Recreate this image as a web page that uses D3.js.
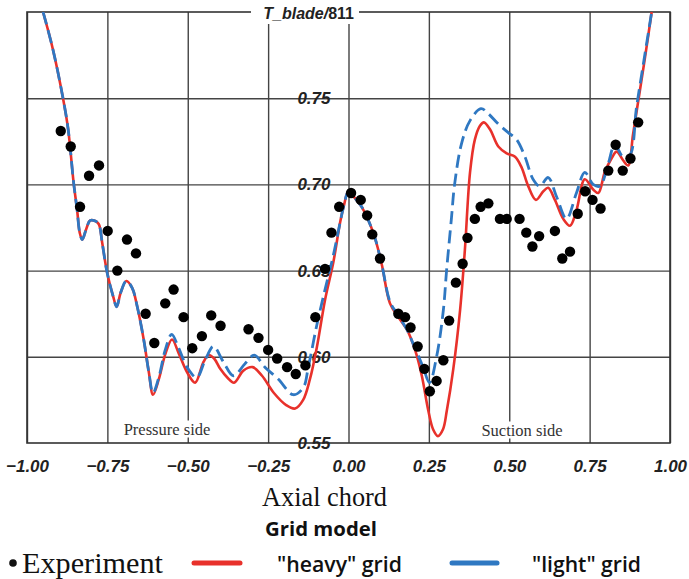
<!DOCTYPE html>
<html>
<head>
<meta charset="utf-8">
<script src="https://cdn.jsdelivr.net/npm/d3@7"></script>
<style>
  html, body { margin: 0; padding: 0; background: #fff; }
  svg { display: block; }
</style>
</head>
<body>
<svg id="chart" width="689" height="579"></svg>
<script>
// ---------------- DATA ----------------
const xTicks = [-1.00, -0.75, -0.50, -0.25, 0.00, 0.25, 0.50, 0.75, 1.00];
const yTicks = [0.55, 0.60, 0.65, 0.70, 0.75];
const yGrid = [0.60, 0.65, 0.70, 0.75];

// Experiment (dots)
const expX = [-0.895,-0.864,-0.835,-0.807,-0.776,-0.749,-0.719,-0.689,-0.661,-0.631,
  -0.604,-0.570,-0.544,-0.513,-0.486,-0.456,-0.427,-0.398,-0.311,-0.280,
  -0.250,-0.222,-0.191,-0.164,-0.134,-0.103,-0.073,-0.053,-0.029,0.008,
  0.038,0.058,0.074,0.098,0.155,0.176,0.193,0.215,0.236,0.253,
  0.274,0.295,0.313,0.334,0.355,0.370,0.393,0.411,0.435,0.471,
  0.492,0.532,0.553,0.572,0.593,0.642,0.665,0.689,0.713,0.736,
  0.759,0.784,0.808,0.831,0.853,0.877,0.901];
const expT = [0.731,0.722,0.687,0.705,0.711,0.673,0.650,0.668,0.660,0.625,
  0.608,0.631,0.639,0.623,0.605,0.612,0.624,0.618,0.616,0.611,
  0.604,0.599,0.594,0.590,0.595,0.623,0.651,0.672,0.687,0.695,
  0.691,0.682,0.671,0.657,0.625,0.623,0.617,0.606,0.593,0.580,
  0.586,0.598,0.621,0.643,0.654,0.669,0.680,0.687,0.689,0.680,
  0.680,0.680,0.672,0.664,0.670,0.673,0.657,0.661,0.683,0.696,
  0.691,0.686,0.708,0.723,0.708,0.715,0.736];

// "heavy" grid (red solid)
const heavyX = [-0.950,-0.919,-0.887,-0.872,-0.855,-0.844,-0.836,-0.828,-0.816,-0.804,
  -0.791,-0.777,-0.766,-0.751,-0.732,-0.721,-0.709,-0.691,-0.673,-0.657,
  -0.637,-0.621,-0.608,-0.590,-0.569,-0.549,-0.528,-0.502,-0.477,-0.451,
  -0.435,-0.418,-0.399,-0.377,-0.356,-0.327,-0.298,-0.269,-0.232,-0.194,
  -0.166,-0.141,-0.120,-0.098,-0.073,-0.047,-0.026,-0.014,0.000,0.020,
  0.041,0.077,0.103,0.129,0.155,0.181,0.207,0.228,0.248,0.263,
  0.278,0.294,0.306,0.326,0.347,0.362,0.378,0.393,0.409,0.421,
  0.440,0.466,0.492,0.518,0.538,0.559,0.583,0.606,0.621,0.642,
  0.668,0.689,0.709,0.735,0.761,0.777,0.797,0.818,0.834,0.854,
  0.870,0.885,0.906,0.925,0.943];
const heavyT = [0.800,0.778,0.749,0.732,0.701,0.685,0.672,0.668,0.674,0.679,
  0.679,0.677,0.666,0.649,0.635,0.629,0.637,0.644,0.640,0.629,
  0.610,0.591,0.578,0.587,0.602,0.610,0.602,0.591,0.585,0.597,
  0.601,0.599,0.593,0.588,0.585,0.592,0.594,0.589,0.579,0.572,
  0.570,0.575,0.587,0.606,0.633,0.655,0.678,0.688,0.696,0.692,
  0.687,0.672,0.654,0.631,0.623,0.616,0.604,0.589,0.569,0.558,
  0.554,0.558,0.569,0.593,0.627,0.662,0.707,0.726,0.734,0.736,
  0.732,0.722,0.718,0.716,0.710,0.699,0.691,0.696,0.698,0.691,
  0.680,0.676,0.685,0.703,0.697,0.695,0.707,0.715,0.719,0.714,
  0.711,0.729,0.754,0.777,0.800];

// "light" grid (blue dashed)
const lightX = [-0.950,-0.919,-0.887,-0.872,-0.855,-0.844,-0.836,-0.828,-0.816,-0.804,
  -0.791,-0.777,-0.766,-0.751,-0.732,-0.721,-0.709,-0.691,-0.673,-0.657,
  -0.637,-0.621,-0.608,-0.590,-0.570,-0.550,-0.528,-0.502,-0.472,-0.446,
  -0.420,-0.389,-0.358,-0.322,-0.293,-0.260,-0.218,-0.172,-0.141,-0.125,
  -0.099,-0.073,-0.047,-0.026,-0.014,0.000,0.020,0.041,0.077,0.103,
  0.129,0.155,0.181,0.207,0.232,0.252,0.274,0.295,0.305,0.320,
  0.330,0.352,0.378,0.412,0.435,0.466,0.497,0.523,0.549,0.574,
  0.595,0.621,0.647,0.678,0.709,0.735,0.761,0.782,0.808,0.828,
  0.854,0.875,0.896,0.919,0.943];
const lightT = [0.800,0.778,0.749,0.732,0.701,0.685,0.672,0.668,0.674,0.679,
  0.679,0.677,0.666,0.649,0.635,0.629,0.637,0.644,0.640,0.629,
  0.610,0.591,0.579,0.588,0.604,0.613,0.605,0.594,0.588,0.598,
  0.606,0.597,0.589,0.596,0.601,0.594,0.587,0.578,0.582,0.594,
  0.618,0.639,0.659,0.678,0.688,0.696,0.692,0.687,0.672,0.654,
  0.632,0.624,0.616,0.605,0.594,0.585,0.600,0.627,0.650,0.680,
  0.700,0.724,0.737,0.744,0.741,0.735,0.730,0.726,0.716,0.703,
  0.699,0.704,0.693,0.680,0.695,0.707,0.700,0.699,0.712,0.723,
  0.716,0.717,0.745,0.772,0.800];

// ---------------- CHART ----------------
const RED = "#e8312b", BLUE = "#2f78c2", GRID = "#444";
const svg = d3.select("#chart");
const x = d3.scaleLinear().domain([-1, 1]).range([27, 670]);
const y = d3.scaleLinear().domain([0.55, 0.80]).range([443, 12]);
const [L, R] = x.range(), [B, T] = y.range();

// grid
const gx = svg.append("g").attr("transform", `translate(0,${B})`)
  .call(d3.axisBottom(x).tickValues(xTicks).tickSize(-(B - T)).tickFormat(""));
gx.select(".domain").remove();
gx.selectAll("line").attr("stroke", GRID).attr("stroke-width", 1.4);
const gy = svg.append("g").attr("transform", `translate(${L},0)`)
  .call(d3.axisLeft(y).tickValues(yGrid).tickSize(-(R - L)).tickFormat(""));
gy.select(".domain").remove();
gy.selectAll("line").attr("stroke", GRID).attr("stroke-width", 1.4);
svg.append("rect").attr("x", L).attr("y", T).attr("width", R - L).attr("height", B - T)
  .attr("fill", "none").attr("stroke", "#333").attr("stroke-width", 1.6);

// text with white background helper
function bgText(g, txt, cx, cy, opts) {
  const t = g.append("text").attr("x", cx).attr("y", cy)
    .attr("text-anchor", "middle").attr("dominant-baseline", "central")
    .attr("font-family", opts.family).attr("font-size", opts.size)
    .attr("fill", opts.color || "#222").text(txt);
  const bb = t.node().getBBox();
  g.insert("rect", "text").attr("x", bb.x - 2).attr("y", bb.y + 1)
    .attr("width", bb.width + 4).attr("height", bb.height - 2).attr("fill", "#fff");
  return t;
}
const lab = svg.append("g");
bgText(lab, "Pressure side", 167, 429, {family: "'Liberation Serif', serif", size: 16.5, color: "#333"});
const lab2 = svg.append("g");
bgText(lab2, "Suction side", 522, 430, {family: "'Liberation Serif', serif", size: 16.5, color: "#333"});

// y labels on the zero axis
const ya = svg.append("g").attr("transform", `translate(${x(0)},0)`)
  .call(d3.axisLeft(y).tickValues(yTicks).tickSize(0).tickPadding(18).tickFormat(d3.format(".2f")));
ya.select(".domain").remove();
ya.selectAll("text").attr("font-family", "'Liberation Sans', Arial, sans-serif")
  .attr("font-size", 17).attr("font-weight", "bold").attr("font-style", "italic").attr("fill", "#222");

// top title label with white background
const tg = svg.append("g");
tg.append("rect").attr("x", 251).attr("y", 2).attr("width", 108).attr("height", 22).attr("fill", "#fff");
const tt = tg.append("text").attr("x", 354).attr("y", 13).attr("text-anchor", "end")
  .attr("dominant-baseline", "central").attr("font-family", "'Liberation Sans', Arial, sans-serif")
  .attr("font-size", 16).attr("font-weight", "bold").attr("fill", "#222");
tt.append("tspan").attr("font-style", "italic").text("T_blade/");
tt.append("tspan").text("811");

// x axis labels
const xa = svg.append("g").attr("transform", `translate(0,${B})`)
  .call(d3.axisBottom(x).tickValues(xTicks).tickSize(0).tickPadding(17).tickFormat(d3.format(".2f")));
xa.select(".domain").remove();
xa.selectAll("text").attr("font-family", "'Liberation Sans', Arial, sans-serif")
  .attr("font-size", 17).attr("font-weight", "bold").attr("font-style", "italic").attr("fill", "#222");

// curves
svg.append("clipPath").attr("id", "clip").append("rect")
  .attr("x", L).attr("y", T).attr("width", R - L).attr("height", B - T);
const line = d3.line().x(d => x(d[0])).y(d => y(d[1])).curve(d3.curveCatmullRom.alpha(0.5));
const heavy = heavyX.map((v, i) => [v, heavyT[i]]);
const light = lightX.map((v, i) => [v, lightT[i]]);
const cg = svg.append("g").attr("clip-path", "url(#clip)");
cg.append("path").attr("d", line(heavy)).attr("fill", "none").attr("stroke", RED).attr("stroke-width", 2.6);
cg.append("path").attr("d", line(light)).attr("fill", "none").attr("stroke", BLUE).attr("stroke-width", 2.8)
  .attr("stroke-dasharray", "13,6");

// experiment dots
svg.append("g").selectAll("circle").data(expX.map((v, i) => [v, expT[i]])).join("circle")
  .attr("cx", d => x(d[0])).attr("cy", d => y(d[1])).attr("r", 5.2).attr("fill", "#000");

// axis title & legend
function fitText(t, target) {
  const w = t.node().getComputedTextLength();
  const fs = parseFloat(t.attr("font-size"));
  t.attr("font-size", fs * target / w);
}
const ax = svg.append("text").attr("x", 324.5).attr("y", 497).attr("text-anchor", "middle")
  .attr("dominant-baseline", "central").attr("font-family", "'Liberation Serif', serif")
  .attr("font-size", 24).attr("fill", "#111").text("Axial chord");
fitText(ax, 125);
const gm = svg.append("text").attr("x", 321).attr("y", 528).attr("text-anchor", "middle")
  .attr("dominant-baseline", "central").attr("font-family", "'Open Sans', sans-serif")
  .attr("font-size", 17).attr("font-weight", "bold").attr("fill", "#111").text("Grid model");
fitText(gm, 112);

const ly = 563;
svg.append("circle").attr("cx", 13).attr("cy", ly).attr("r", 3.8).attr("fill", "#111");
const le = svg.append("text").attr("x", 22).attr("y", ly).attr("dominant-baseline", "central")
  .attr("font-family", "'Liberation Serif', serif").attr("font-size", 25).attr("fill", "#111").text("Experiment");
fitText(le, 141);
svg.append("line").attr("x1", 194).attr("x2", 240).attr("y1", ly).attr("y2", ly)
  .attr("stroke", RED).attr("stroke-width", 5).attr("stroke-linecap", "round");
const lh = svg.append("text").attr("x", 277).attr("y", ly).attr("dominant-baseline", "central")
  .attr("font-family", "'Open Sans', sans-serif").attr("font-size", 18).attr("font-weight", 600)
  .attr("fill", "#111").text('"heavy" grid');
fitText(lh, 125);
svg.append("line").attr("x1", 452).attr("x2", 497).attr("y1", ly).attr("y2", ly)
  .attr("stroke", BLUE).attr("stroke-width", 5).attr("stroke-linecap", "round");
const ll = svg.append("text").attr("x", 532).attr("y", ly).attr("dominant-baseline", "central")
  .attr("font-family", "'Open Sans', sans-serif").attr("font-size", 18).attr("font-weight", 600)
  .attr("fill", "#111").text('"light" grid');
fitText(ll, 109);
</script>
</body>
</html>
